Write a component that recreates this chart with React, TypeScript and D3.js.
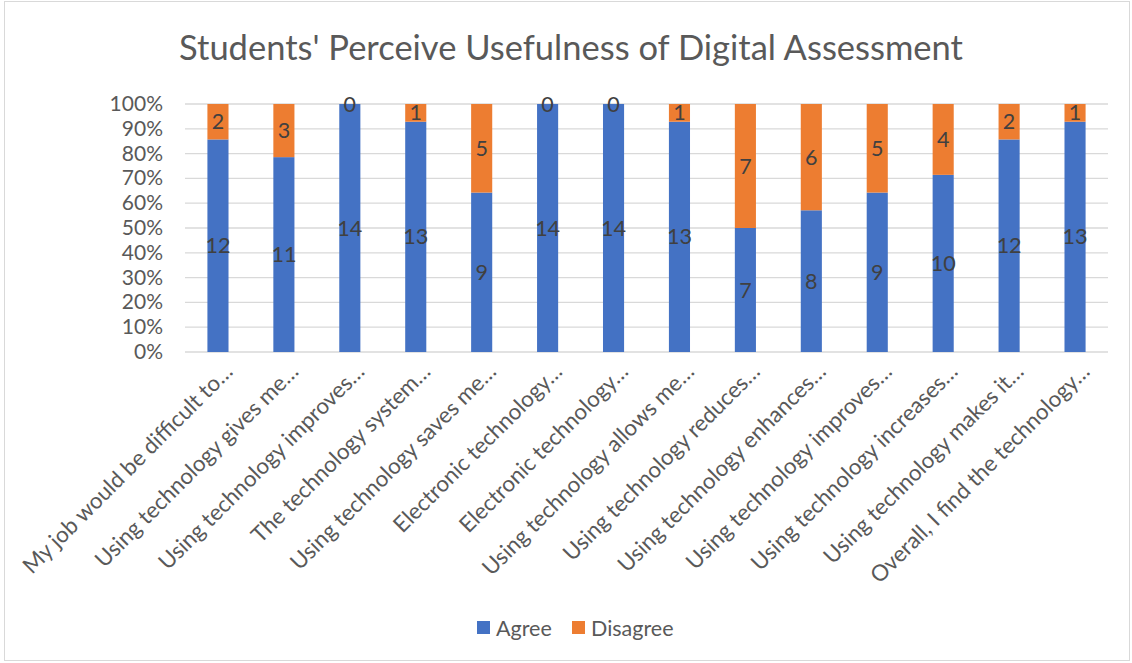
import React from "react";
import * as d3 from "d3";

const categories = [
  "My job would be difficult to…",
  "Using technology gives me…",
  "Using technology improves…",
  "The technology system…",
  "Using technology saves me…",
  "Electronic technology…",
  "Electronic technology…",
  "Using technology allows me…",
  "Using technology reduces…",
  "Using technology enhances…",
  "Using technology improves…",
  "Using technology increases…",
  "Using technology makes it…",
  "Overall, I find the technology…",
];
const agree = [12, 11, 14, 13, 9, 14, 14, 13, 7, 8, 9, 10, 12, 13];
const disagree = [2, 3, 0, 1, 5, 0, 0, 1, 7, 6, 5, 4, 2, 1];
const yTicks = [0, 0.1, 0.2, 0.3, 0.4, 0.5, 0.6, 0.7, 0.8, 0.9, 1];
const seriesNames = ["Agree", "Disagree"];
const colors = ["#4472C4", "#ED7D31"];

const W = 1132;
const H = 663;
const FONT = "Lato, Calibri, 'Open Sans', sans-serif";

export default function App() {
  const x = d3
    .scaleBand<number>()
    .domain(d3.range(categories.length))
    .range([185, 1108])
    .paddingInner(0.68)
    .paddingOuter(0.34);
  const y = d3.scaleLinear().domain([0, 1]).range([352, 104]);

  const rows = categories.map((c, i) => ({ i, agree: agree[i], disagree: disagree[i] }));
  const stack = d3
    .stack<any>()
    .keys(["agree", "disagree"])
    .offset(d3.stackOffsetExpand);
  const series = stack(rows);
  const bw = x.bandwidth();

  return (
    <svg
      width={W}
      height={H}
      style={{ position: "absolute", left: 0, top: 0, background: "#fff" }}
      fontFamily={FONT}
    >
      <rect x={4.5} y={1.5} width={1125} height={659} fill="#fff" stroke="#D9D9D9" />
      <text x={571} y={60} textAnchor="middle" fontSize={34.5} fill="#595959">
        Students' Perceive Usefulness of Digital Assessment
      </text>
      {yTicks.map((t) => (
        <g key={t}>
          <line x1={185} x2={1108} y1={y(t)} y2={y(t)} stroke="#D9D9D9" strokeWidth={1.3} />
          <text x={163} y={y(t) + 7} textAnchor="end" fontSize={21} fill="#595959">
            {Math.round(t * 100)}%
          </text>
        </g>
      ))}
      {series.map((s, si) => (
        <g key={si} fill={colors[si]}>
          {s.map((d, i) => (
            <rect
              key={i}
              x={x(i)!}
              y={y(d[1])}
              width={bw}
              height={y(d[0]) - y(d[1])}
            />
          ))}
        </g>
      ))}
      {series.map((s, si) => (
        <g key={"l" + si}>
          {s.map((d, i) => (
            <text
              key={i}
              x={x(i)! + bw / 2}
              y={(y(d[0]) + y(d[1])) / 2 + 7.5}
              textAnchor="middle"
              fontSize={21.5}
              fill="#404040"
            >
              {si === 0 ? agree[i] : disagree[i]}
            </text>
          ))}
        </g>
      ))}
      {categories.map((c, i) => {
        const px = x(i)! + bw / 2 + 16;
        const py = 373;
        return (
          <text
            key={i}
            transform={`translate(${px},${py}) rotate(-45)`}
            textAnchor="end"
            fontSize={22.3}
            fill="#595959"
          >
            {c}
          </text>
        );
      })}
      {seriesNames.map((n, i) => {
        const lx = [477, 572][i];
        return (
          <g key={n}>
            <rect x={lx} y={621} width={13} height={13} fill={colors[i]} />
            <text x={lx + 19} y={635.5} fontSize={21.5} fill="#595959">
              {n}
            </text>
          </g>
        );
      })}
    </svg>
  );
}
